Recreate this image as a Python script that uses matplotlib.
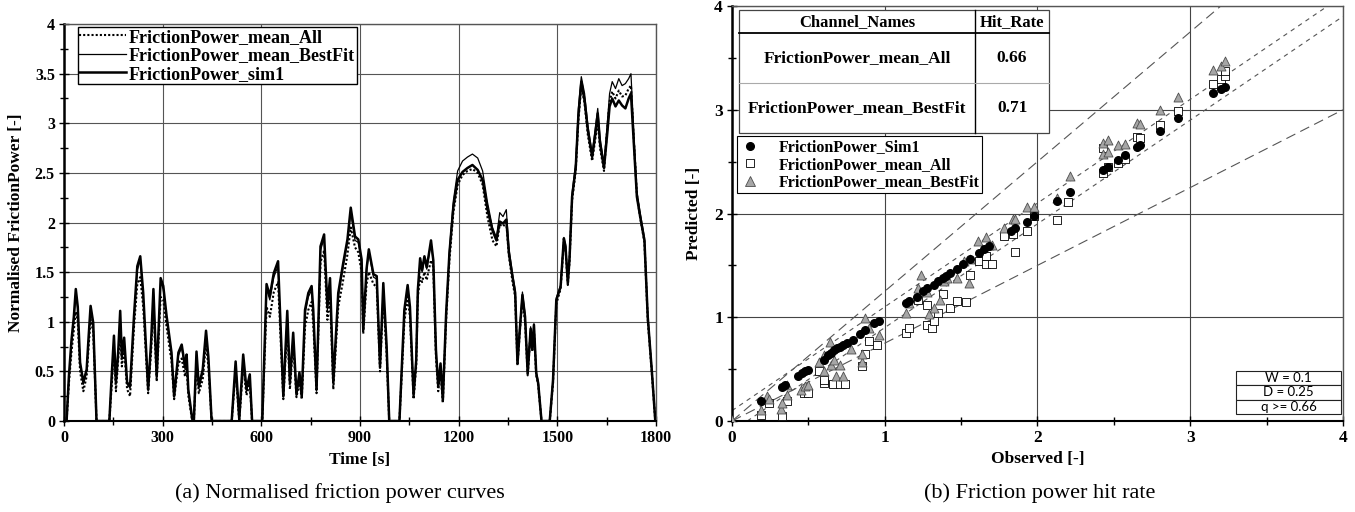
import matplotlib.pyplot as plt
from matplotlib.patches import Rectangle
from matplotlib.lines import Line2D
from matplotlib.ticker import MultipleLocator, FuncFormatter

plt.rcParams['font.family'] = ['Liberation Serif', 'DejaVu Serif']

# ---- (a) normalised friction power curves ----
time_s = [0, 8, 15, 23, 30, 36, 42, 49, 59, 69, 75, 81, 89, 99, 138, 145, 152, 158, 165, 171,
          176, 183, 192, 201, 213, 223, 232, 241, 256, 265, 272, 282, 294, 302, 312, 327, 335, 348, 358, 368,
          373, 378, 390, 395, 403, 410, 422, 432, 439, 449, 510, 522, 533, 545, 555, 565, 572, 603, 616, 626,
          638, 651, 667, 679, 687, 697, 707, 716, 723, 733, 743, 753, 758, 768, 780, 791, 801, 809, 819, 834,
          849, 862, 872, 885, 895, 905, 910, 920, 927, 941, 951, 961, 971, 981, 989, 1020, 1035, 1045, 1052, 1063,
          1071, 1076, 1083, 1089, 1096, 1103, 1109, 1116, 1123, 1131, 1138, 1145, 1152, 1162, 1172, 1184, 1197, 1212, 1227, 1242,
          1258, 1273, 1288, 1303, 1315, 1325, 1335, 1345, 1353, 1364, 1372, 1379, 1386, 1394, 1402, 1410, 1419, 1424, 1429, 1436,
          1442, 1452, 1477, 1487, 1497, 1510, 1520, 1525, 1532, 1537, 1545, 1556, 1564, 1573, 1583, 1593, 1606, 1616, 1623, 1630,
          1642, 1652, 1659, 1667, 1677, 1687, 1697, 1707, 1717, 1724, 1732, 1742, 1752, 1765, 1775, 1788, 1798]

sim1 = [0, 0, 0.45, 0.82, 1.05, 1.33, 1.15, 0.59, 0.39, 0.52, 0.85, 1.16, 0.99, 0, 0, 0.45, 0.86, 0.39, 0.70, 1.11,
        0.65, 0.84, 0.39, 0.35, 1.06, 1.56, 1.66, 1.29, 0.32, 0.80, 1.33, 0.45, 1.44, 1.36, 1.06, 0.69, 0.25, 0.69, 0.77, 0.55,
        0.67, 0.32, 0.02, 0, 0.70, 0.35, 0.52, 0.91, 0.65, 0, 0, 0.60, 0.02, 0.67, 0.32, 0.47, 0, 0, 1.38, 1.26,
        1.49, 1.61, 0.25, 1.11, 0.39, 0.89, 0.27, 0.49, 0.25, 1.12, 1.29, 1.36, 1.12, 0.32, 1.76, 1.88, 1.16, 1.44, 0.39, 1.29,
        1.59, 1.83, 2.15, 1.86, 1.83, 1.63, 0.92, 1.53, 1.73, 1.48, 1.46, 0.55, 1.39, 0.76, 0, 0, 1.12, 1.37, 1.15, 0.26,
        0.61, 1.32, 1.64, 1.52, 1.66, 1.55, 1.67, 1.82, 1.62, 0.72, 0.35, 0.58, 0.21, 1.08, 1.69, 2.16, 2.43, 2.51, 2.55, 2.58,
        2.53, 2.43, 2.13, 1.92, 1.82, 2.01, 1.99, 2.03, 1.69, 1.45, 1.29, 0.58, 0.92, 1.27, 1.05, 0.48, 0.93, 0.72, 0.97, 0.48,
        0.38, 0, 0, 0.41, 1.22, 1.35, 1.84, 1.76, 1.39, 1.62, 2.26, 2.55, 3.07, 3.42, 3.23, 2.93, 2.66, 2.90, 3.10, 2.80,
        2.55, 2.90, 3.17, 3.25, 3.17, 3.23, 3.18, 3.15, 3.25, 3.30, 2.83, 2.26, 2.06, 1.82, 1.05, 0.48, 0]

mean_bestfit = [0, 0, 0.42, 0.78, 1.00, 1.30, 1.12, 0.58, 0.37, 0.50, 0.83, 1.12, 0.96, 0, 0, 0.42, 0.82, 0.37, 0.68, 1.06,
                0.62, 0.80, 0.37, 0.33, 1.03, 1.52, 1.62, 1.25, 0.30, 0.78, 1.30, 0.43, 1.40, 1.33, 1.03, 0.66, 0.24, 0.66, 0.74, 0.52,
                0.63, 0.30, 0.02, 0, 0.66, 0.33, 0.49, 0.88, 0.62, 0, 0, 0.57, 0.02, 0.63, 0.30, 0.45, 0, 0, 1.33, 1.22,
                1.45, 1.56, 0.24, 1.07, 0.37, 0.86, 0.26, 0.47, 0.24, 1.08, 1.25, 1.32, 1.08, 0.30, 1.72, 1.84, 1.12, 1.40, 0.37, 1.25,
                1.55, 1.80, 2.10, 1.82, 1.80, 1.60, 0.90, 1.50, 1.70, 1.45, 1.43, 0.53, 1.35, 0.73, 0, 0, 1.10, 1.35, 1.12, 0.25,
                0.60, 1.30, 1.62, 1.50, 1.64, 1.53, 1.65, 1.80, 1.60, 0.70, 0.34, 0.56, 0.20, 1.08, 1.72, 2.22, 2.52, 2.62, 2.66, 2.69,
                2.65, 2.52, 2.20, 1.95, 1.85, 2.10, 2.06, 2.13, 1.74, 1.48, 1.32, 0.60, 0.95, 1.30, 1.08, 0.50, 0.95, 0.75, 0.98, 0.50,
                0.40, 0, 0, 0.42, 1.24, 1.37, 1.85, 1.78, 1.40, 1.65, 2.30, 2.60, 3.15, 3.47, 3.30, 2.98, 2.70, 2.96, 3.15, 2.85,
                2.60, 3.00, 3.30, 3.42, 3.35, 3.45, 3.38, 3.40, 3.45, 3.50, 2.95, 2.32, 2.10, 1.85, 1.08, 0.50, 0]

mean_all = [0, 0, 0.38, 0.70, 0.92, 1.10, 1.00, 0.50, 0.30, 0.45, 0.75, 1.02, 0.90, 0, 0, 0.35, 0.70, 0.30, 0.62, 0.95,
            0.55, 0.72, 0.32, 0.25, 0.95, 1.38, 1.45, 1.15, 0.28, 0.70, 1.15, 0.40, 1.25, 1.22, 0.95, 0.60, 0.22, 0.58, 0.63, 0.45,
            0.55, 0.26, 0, 0, 0.60, 0.28, 0.42, 0.78, 0.55, 0, 0, 0.50, 0, 0.55, 0.26, 0.38, 0, 0, 1.15, 1.05,
            1.30, 1.40, 0.22, 0.95, 0.32, 0.78, 0.24, 0.40, 0.22, 0.95, 1.12, 1.20, 0.98, 0.28, 1.60, 1.72, 1.02, 1.25, 0.32, 1.15,
            1.42, 1.68, 1.95, 1.75, 1.70, 1.50, 0.88, 1.38, 1.50, 1.38, 1.35, 0.50, 1.25, 0.68, 0, 0, 1.00, 1.25, 1.05, 0.22,
            0.55, 1.25, 1.45, 1.40, 1.50, 1.42, 1.52, 1.62, 1.55, 0.65, 0.30, 0.50, 0.18, 1.02, 1.62, 2.10, 2.38, 2.48, 2.52, 2.54,
            2.50, 2.38, 2.05, 1.82, 1.76, 1.98, 1.96, 2.00, 1.66, 1.40, 1.25, 0.56, 0.90, 1.22, 1.00, 0.46, 0.90, 0.70, 0.92, 0.46,
            0.36, 0, 0, 0.38, 1.18, 1.33, 1.80, 1.74, 1.37, 1.60, 2.22, 2.52, 3.02, 3.38, 3.20, 2.88, 2.62, 2.85, 3.02, 2.75,
            2.52, 2.95, 3.22, 3.32, 3.25, 3.33, 3.27, 3.28, 3.35, 3.38, 2.88, 2.28, 2.05, 1.80, 1.02, 0.46, 0]

# ---- (b) hit rate scatter ----
sim1_obs = [0.19, 0.33, 0.35, 0.43, 0.46, 0.48, 0.50, 0.60, 0.63, 0.65, 0.67, 0.69, 0.71, 0.73, 0.75, 0.79, 0.84, 0.87,
            0.93, 0.96, 1.14, 1.16, 1.21, 1.25, 1.28, 1.32, 1.35, 1.38, 1.40, 1.43, 1.47, 1.51, 1.56, 1.62, 1.65, 1.68,
            1.83, 1.85, 1.93, 1.98, 2.13, 2.21, 2.43, 2.46, 2.53, 2.57, 2.65, 2.67, 2.80, 2.92, 3.15, 3.20, 3.23]
sim1_pred = [0.19, 0.33, 0.35, 0.43, 0.46, 0.48, 0.49, 0.59, 0.64, 0.66, 0.68, 0.70, 0.71, 0.73, 0.75, 0.78, 0.84, 0.88,
             0.94, 0.96, 1.14, 1.16, 1.20, 1.25, 1.28, 1.31, 1.35, 1.38, 1.40, 1.43, 1.47, 1.51, 1.56, 1.62, 1.66, 1.69,
             1.83, 1.86, 1.92, 1.98, 2.12, 2.21, 2.42, 2.45, 2.52, 2.56, 2.64, 2.66, 2.80, 2.92, 3.16, 3.20, 3.22]

all_obs = [0.19, 0.24, 0.33, 0.36, 0.47, 0.50, 0.57, 0.60, 0.60, 0.66, 0.71, 0.74, 0.85, 0.87, 0.90, 0.95, 1.14, 1.16,
           1.22, 1.28, 1.28, 1.31, 1.32, 1.35, 1.38, 1.43, 1.47, 1.53, 1.56, 1.62, 1.66, 1.70, 1.66, 1.78, 1.84, 1.85,
           1.93, 1.98, 2.13, 2.20, 2.43, 2.43, 2.46, 2.53, 2.57, 2.65, 2.67, 2.80, 2.92, 3.15, 3.20, 3.23, 3.23]
all_pred = [0.06, 0.17, 0.05, 0.19, 0.27, 0.27, 0.48, 0.37, 0.40, 0.36, 0.36, 0.36, 0.53, 0.65, 0.77, 0.73, 0.85, 0.90,
            1.17, 1.12, 0.93, 0.90, 0.96, 1.04, 1.22, 1.09, 1.16, 1.15, 1.41, 1.54, 1.51, 1.51, 1.59, 1.78, 1.80, 1.63,
            1.83, 1.98, 1.94, 2.11, 2.39, 2.63, 2.45, 2.49, 2.53, 2.74, 2.73, 2.85, 2.99, 3.25, 3.30, 3.33, 3.37]

best_obs = [0.0, 0.19, 0.23, 0.24, 0.32, 0.33, 0.36, 0.36, 0.45, 0.48, 0.50, 0.57, 0.60, 0.60, 0.64, 0.65, 0.67, 0.68,
            0.71, 0.73, 0.78, 0.85, 0.85, 0.87, 0.90, 0.96, 1.14, 1.16, 1.22, 1.24, 1.28, 1.29, 1.32, 1.36, 1.39, 1.41,
            1.47, 1.52, 1.55, 1.56, 1.61, 1.66, 1.68, 1.70, 1.78, 1.84, 1.85, 1.93, 1.98, 2.13, 2.21, 2.43, 2.43, 2.46,
            2.46, 2.53, 2.57, 2.65, 2.67, 2.80, 2.92, 3.15, 3.20, 3.23]
best_pred = [0.01, 0.11, 0.24, 0.21, 0.12, 0.17, 0.25, 0.35, 0.30, 0.34, 0.35, 0.57, 0.64, 0.48, 0.76, 0.54, 0.59, 0.43,
             0.54, 0.43, 0.69, 0.57, 0.65, 0.99, 0.90, 0.83, 1.04, 1.14, 1.28, 1.41, 1.24, 1.03, 1.09, 1.17, 1.35, 1.38,
             1.38, 1.54, 1.33, 1.56, 1.74, 1.77, 1.70, 1.70, 1.86, 1.95, 1.95, 2.06, 2.06, 2.15, 2.36, 2.68, 2.57, 2.71,
             2.59, 2.66, 2.67, 2.87, 2.86, 3.00, 3.12, 3.38, 3.42, 3.47]

channel_names = ['FrictionPower_mean_All', 'FrictionPower_mean_BestFit']
hit_rates = ['0.66', '0.71']
W = 0.1
D = 0.25
q_min = 0.66

bold = {'fontweight': 'bold'}
fmt = FuncFormatter(lambda v, _: f'{v:g}')

fig = plt.figure(figsize=(13.55, 5.12), dpi=100)
ax1 = fig.add_axes([0.0472, 0.1777, 0.4369, 0.7753])
ax2 = fig.add_axes([0.5402, 0.1777, 0.4509, 0.8105])

# left panel
ax1.plot(time_s, mean_all, color='black', lw=1.5, ls=(0, (1, 1)), label='FrictionPower_mean_All', zorder=3)
ax1.plot(time_s, mean_bestfit, color='black', lw=0.9, label='FrictionPower_mean_BestFit', zorder=3)
ax1.plot(time_s, sim1, color='black', lw=1.8, label='FrictionPower_sim1', zorder=4)
ax1.set_xlim(0, 1800)
ax1.set_ylim(0, 4)
ax1.xaxis.set_major_locator(MultipleLocator(300))
ax1.xaxis.set_minor_locator(MultipleLocator(150))
ax1.yaxis.set_major_locator(MultipleLocator(0.5))
ax1.yaxis.set_minor_locator(MultipleLocator(0.25))
ax1.yaxis.set_major_formatter(fmt)
ax1.grid(which='major', color='#555555', lw=0.8)
ax1.set_xlabel('Time [s]', fontsize=12.5, **bold)
ax1.set_ylabel('Normalised FrictionPower [-]', fontsize=12.5, **bold)
ax1.xaxis.set_label_coords(0.5, -0.098)
ax1.xaxis.label.set_va('center')
ax1.yaxis.set_label_coords(-0.081, 0.5)
ax1.yaxis.label.set_va('center')
leg1 = ax1.legend(loc='upper left', bbox_to_anchor=(0.023, 0.993), prop={'weight': 'bold', 'size': 13},
                  frameon=True, fancybox=False, edgecolor='black', framealpha=1, borderpad=0.1,
                  labelspacing=0.08, handlelength=2.6, handletextpad=0.15, borderaxespad=0)
leg1.get_frame().set_linewidth(1.0)

# right panel
ax2.axline((0, 0), slope=1 + D, color='#555555', lw=0.8, dashes=(9, 5), zorder=2)
ax2.axline((0, 0), slope=1 - D, color='#555555', lw=0.8, dashes=(9, 5), zorder=2)
ax2.axline((0, W), slope=1, color='#555555', lw=0.8, dashes=(4, 4), zorder=2)
ax2.axline((0, -W), slope=1, color='#555555', lw=0.8, dashes=(4, 4), zorder=2)
ax2.scatter(all_obs, all_pred, marker='s', s=28, facecolor='white', edgecolor='black', lw=0.6, zorder=3)
ax2.scatter(best_obs, best_pred, marker='^', s=42, facecolor='#a6a6a6', edgecolor='#4d4d4d', lw=0.6, zorder=4)
ax2.scatter(sim1_obs, sim1_pred, marker='o', s=30, color='black', zorder=5)
ax2.set_xlim(0, 4)
ax2.set_ylim(0, 4)
for axis in (ax2.xaxis, ax2.yaxis):
    axis.set_major_locator(MultipleLocator(1))
    axis.set_minor_locator(MultipleLocator(0.5))
    axis.set_major_formatter(fmt)
ax2.grid(which='major', color='#444444', lw=0.8)
ax2.get_ygridlines()[1].set_color('#999999')
ax2.get_ygridlines()[1].set_linewidth(1.3)
ax2.set_xlabel('Observed [-]', fontsize=12.5, **bold)
ax2.set_ylabel('Predicted [-]', fontsize=12.5, **bold)
ax2.xaxis.set_label_coords(0.5, -0.092)
ax2.xaxis.label.set_va('center')
ax2.yaxis.set_label_coords(-0.062, 0.5)
ax2.yaxis.label.set_va('center')

handles = [Line2D([], [], ls='none', marker='o', ms=5.5, color='black'),
           Line2D([], [], ls='none', marker='s', ms=5.5, mfc='white', mec='black', mew=0.6),
           Line2D([], [], ls='none', marker='^', ms=6.5, mfc='#a6a6a6', mec='#4d4d4d', mew=0.6)]
labels = ['FrictionPower_Sim1', 'FrictionPower_mean_All', 'FrictionPower_mean_BestFit']
leg2 = ax2.legend(handles, labels, loc='upper left', bbox_to_anchor=(0.008, 0.686),
                  prop={'weight': 'bold', 'size': 11.5}, frameon=True, fancybox=False, edgecolor='black',
                  framealpha=1, borderpad=0.2, labelspacing=0.08, handlelength=1.2, handletextpad=1.2,
                  borderaxespad=0)
leg2.get_frame().set_linewidth(0.8)

# hit rate table
tx0, txs, tx1 = 0.0115, 0.398, 0.519
ty_top, ty_head, ty_mid, ty_bot = 0.990, 0.935, 0.814, 0.694
tr = ax2.transAxes
ax2.add_patch(Rectangle((tx0, ty_bot), tx1 - tx0, ty_top - ty_bot, transform=tr, facecolor='white',
                        edgecolor='#444444', lw=0.9, zorder=6))
ax2.add_line(Line2D([txs, txs], [ty_bot, ty_top], transform=tr, color='black', lw=1.0, zorder=7))
ax2.add_line(Line2D([tx0, tx1], [ty_head, ty_head], transform=tr, color='black', lw=1.3, zorder=7))
ax2.add_line(Line2D([tx0, tx1], [ty_mid, ty_mid], transform=tr, color='#aaaaaa', lw=0.8, zorder=7))
ax2.text((tx0 + txs) / 2, (ty_top + ty_head) / 2, 'Channel_Names', transform=tr, ha='center', va='center',
         fontsize=12, zorder=8, **bold)
ax2.text((txs + tx1) / 2, (ty_top + ty_head) / 2, 'Hit_Rate', transform=tr, ha='center', va='center',
         fontsize=12, zorder=8, **bold)
for i, (name, rate) in enumerate(zip(channel_names, hit_rates)):
    yc = [(ty_head + ty_mid) / 2, (ty_mid + ty_bot) / 2][i]
    ax2.text((tx0 + txs) / 2, yc, name, transform=tr, ha='center', va='center', fontsize=12.5, zorder=8, **bold)
    ax2.text((txs + tx1) / 2, yc, rate, transform=tr, ha='center', va='center', fontsize=12.5, zorder=8, **bold)

# parameter box
px0, px1 = 0.825, 0.997
rows = [f'W = {W:g}', f'D = {D:g}', f'q >= {q_min:g}']
rh = 0.0345
for i, txt in enumerate(rows):
    yb = 0.017 + (2 - i) * rh
    ax2.add_patch(Rectangle((px0, yb), px1 - px0, rh, transform=tr, facecolor='white', edgecolor='#222222',
                            lw=0.8, zorder=6))
    ax2.text((px0 + px1) / 2, yb + rh / 2, txt, transform=tr, ha='center', va='center', fontsize=9.5,
             family=['Lato', 'DejaVu Sans'], zorder=7)

for ax, lsize in ((ax1, 11.5), (ax2, 12.5)):
    ax.tick_params(which='major', direction='inout', length=7, width=1.0, labelsize=lsize, pad=3)
    ax.tick_params(which='minor', direction='inout', length=6, width=1.0)
    for lab in ax.get_xticklabels() + ax.get_yticklabels():
        lab.set_fontweight('bold')
    ax.spines['left'].set_linewidth(1.8)
    ax.spines['bottom'].set_linewidth(1.5)
    for s in ('top', 'right'):
        ax.spines[s].set_color('#555555')
        ax.spines[s].set_linewidth(1.0)

fig.text(0.251, 0.037, '(a) Normalised friction power curves', ha='center', va='center', fontsize=16)
fig.text(0.7675, 0.037, '(b) Friction power hit rate', ha='center', va='center', fontsize=16)

fig.savefig('out.png', dpi=100)
